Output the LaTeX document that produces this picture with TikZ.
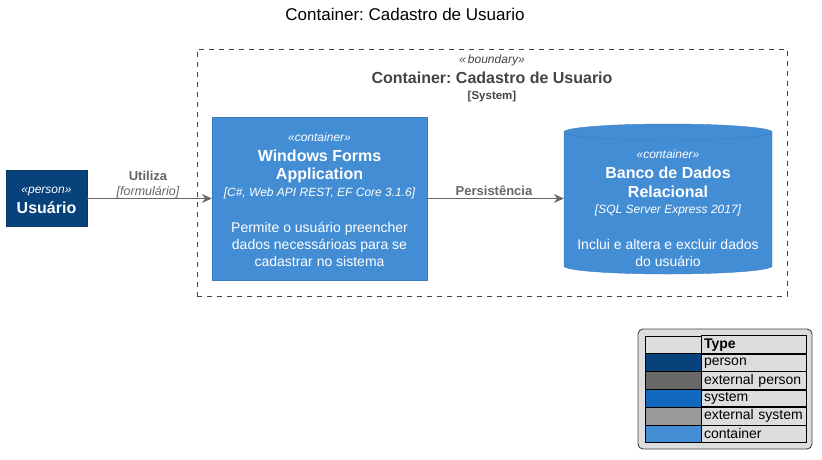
\documentclass[tikz,border=0pt]{standalone}
\usepackage{fontspec}
\setmainfont{Liberation Sans}
\usetikzlibrary{arrows.meta}
\frenchspacing

\definecolor{personcol}{HTML}{08427B}
\definecolor{extpersoncol}{HTML}{686868}
\definecolor{systemcol}{HTML}{1168BD}
\definecolor{extsystemcol}{HTML}{999999}
\definecolor{containercol}{HTML}{438DD5}
\definecolor{containerline}{HTML}{3A7BBE}
\definecolor{relcol}{HTML}{666666}
\definecolor{boundcol}{HTML}{444444}
\definecolor{legendbg}{HTML}{DDDDDD}

\newcommand{\fsz}[1]{\fontsize{#1}{#1}\selectfont}

\tikzset{
  stereo/.style={anchor=base, inner sep=0pt, text=white, font=\fsz{12}\itshape},
  ename/.style={anchor=base, inner sep=0pt, text=white, font=\fsz{16}\bfseries},
  techno/.style={anchor=base, inner sep=0pt, text=white, font=\fsz{12}\itshape},
  descr/.style={anchor=base, inner sep=0pt, text=white, font=\fsz{14}},
  rel/.style={draw=relcol, line width=1pt, -{Stealth[length=10pt,width=9pt,inset=3.5pt]}},
  rellabel/.style={anchor=base, inner sep=0pt, text=relcol, font=\fsz{13}\bfseries},
  reltech/.style={anchor=base, inner sep=0pt, text=relcol, font=\fsz{12.5}\itshape},
  swatch/.style={draw=black, line width=0.8pt, minimum width=56pt, minimum height=17.8pt, inner sep=0pt},
  typecell/.style={draw=black, line width=0.8pt, text width=99pt, align=left, minimum height=17.8pt,
    inner sep=3pt, font=\fsz{14}}
}

\begin{document}
\begin{tikzpicture}[x=1pt,y=-1pt]
  \useasboundingbox (0,0) rectangle (822,459);

  \node[anchor=base, inner sep=0pt, font=\fsz{17}] (title) at (405,20) {Container: Cadastro de Usuario};

  \node[draw=boundcol, dash pattern=on 5pt off 5pt, line width=0.9pt, minimum width=590pt,
    minimum height=247pt, inner sep=0pt] (cadastro) at (492,172.5) {};
  \begin{scope}[every node/.style={anchor=base, inner sep=0pt, text=boundcol}]
    \node[font=\fsz{12}\itshape] (cadastro-st) at (492,63) {«\,boundary»};
    \node[font=\fsz{16}\bfseries] (cadastro-nm) at (492,83) {Container: Cadastro de Usuario};
    \node[font=\fsz{11.5}\bfseries] (cadastro-ty) at (492,99) {[System]};
  \end{scope}

  \node[draw=personcol!85!black, fill=personcol, minimum width=81pt, minimum height=56pt,
    inner sep=0pt] (usuario) at (46.5,198.5) {};
  \node[stereo] (usuario-st) at (46.5,193) {«person»};
  \node[ename] (usuario-nm) at (46.5,213) {Usuário};

  \node[draw=containerline, fill=containercol, minimum width=215pt, minimum height=163pt,
    inner sep=0pt] (app) at (319.5,198.5) {};
  \node[stereo] (app-st) at (319.5,141) {«container»};
  \node[ename] (app-nm1) at (319.5,161) {Windows Forms};
  \node[ename] (app-nm2) at (319.5,179) {Application};
  \node[techno] (app-tec) at (319.5,196) {[C\#, Web API REST, EF Core 3.1.6]};
  \node[descr] (app-d1) at (319.5,232) {Permite o usuário preencher};
  \node[descr] (app-d2) at (319.5,249) {dados necessárioas para se};
  \node[descr] (app-d3) at (319.5,266) {cadastrar no sistema};

  \node[minimum width=208pt, minimum height=150pt, inner sep=0pt] (db) at (668,198.5) {};
  \fill[containercol] (564,132) -- (564,266) arc[start angle=180, end angle=360, x radius=104pt, y radius=8pt]
    -- (772,132) arc[start angle=0, end angle=180, x radius=104pt, y radius=8pt] -- cycle;
  \draw[containerline] (564,132) -- (564,266) arc[start angle=180, end angle=360, x radius=104pt, y radius=8pt]
    -- (772,132);
  \draw[containerline] (668,132) ellipse [x radius=104pt, y radius=8pt];
  \node[stereo] (db-st) at (668,158) {«container»};
  \node[ename] (db-nm1) at (668,178) {Banco de Dados};
  \node[ename] (db-nm2) at (668,197) {Relacional};
  \node[techno] (db-tec) at (668,213) {[SQL Server Express 2017]};
  \node[descr] (db-d1) at (668,249) {Inclui e altera e excluir dados};
  \node[descr] (db-d2) at (668,266) {do usuário};

  \path (usuario) edge[rel] (app);
  \path (app) edge[rel] (db);
  \node[rellabel] (utiliza) at (148,180) {Utiliza};
  \node[reltech] (utiliza-tec) at (148,195) {[formulário]};
  \node[rellabel] (persist) at (494,195) {Persistência};

  \draw[draw=black!75, fill=legendbg, line width=0.9pt, rounded corners=5pt] (638,329) rectangle (812,449);
  \begin{scope}
    \node[swatch] (lg-h0) at (673,344.9) {};
    \node[swatch, fill=personcol] (lg-s1) at (673,362.7) {};
    \node[swatch, fill=extpersoncol] (lg-s2) at (673,380.5) {};
    \node[swatch, fill=systemcol] (lg-s3) at (673,398.3) {};
    \node[swatch, fill=extsystemcol] (lg-s4) at (673,416.1) {};
    \node[swatch, fill=containercol] (lg-s5) at (673,433.9) {};
    \node[typecell, font=\fsz{14}\bfseries] (lg-h1) at (753.5,344.9) {Type};
    \node[typecell] (lg-t1) at (753.5,362.7) {person};
    \node[typecell] (lg-t2) at (753.5,380.5) {external person};
    \node[typecell] (lg-t3) at (753.5,398.3) {system};
    \node[typecell] (lg-t4) at (753.5,416.1) {external system};
    \node[typecell] (lg-t5) at (753.5,433.9) {container};
  \end{scope}

\end{tikzpicture}
\end{document}
